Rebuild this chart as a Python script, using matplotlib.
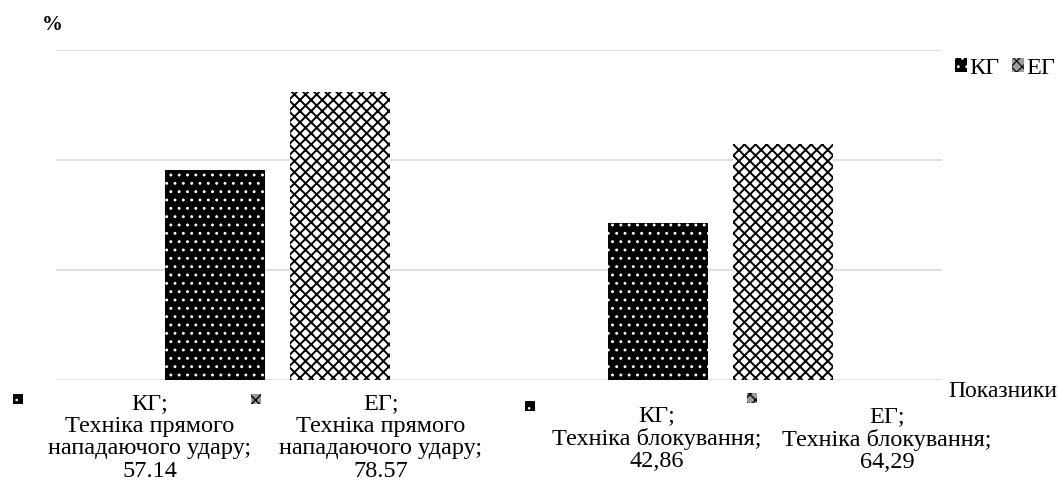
import matplotlib
matplotlib.use("Agg")
import matplotlib.pyplot as plt
from matplotlib.patches import Rectangle, Patch

# Data
categories = ["Техніка прямого\nнападаючого удару", "Техніка блокування"]
groups = ["КГ", "ЕГ"]
kg_values = [57.14, 42.86]
eg_values = [78.57, 64.29]
decimal_marks = [".", ","]
y_ticks = [0, 30, 60, 90]

W, H = 1058, 480
plt.rcParams["font.family"] = ["Liberation Serif", "DejaVu Serif"]

fig = plt.figure(figsize=(W / 100, H / 100), dpi=100)
ax = fig.add_axes([56 / W, 100 / H, 886 / W, 330 / H])

x = list(range(len(categories)))
offset, width = 0.141, 0.226

kg_style = dict(facecolor="black", edgecolor="white", hatch="..", linewidth=0)
eg_style = dict(facecolor="white", edgecolor="black", hatch="xxx", linewidth=0)
kg_hatch_lw, eg_hatch_lw = 0.9, 1.4

kg_bars = ax.bar([xi - offset for xi in x], kg_values, width, label=groups[0], zorder=2, **kg_style)
eg_bars = ax.bar([xi + offset for xi in x], eg_values, width, label=groups[1], zorder=2, **eg_style)
for b in kg_bars:
    b.set_hatch_linewidth(kg_hatch_lw)
for b in eg_bars:
    b.set_hatch_linewidth(eg_hatch_lw)

ax.set_xlim(-0.5, len(categories) - 0.5)
ax.set_ylim(y_ticks[0], y_ticks[-1])
ax.set_yticks(y_ticks)
ax.set_xticks([])
ax.tick_params(axis="y", length=0, labelleft=False)
ax.grid(axis="y", color="#d9d9d9", linewidth=1.2, zorder=0)
for s in ax.spines.values():
    s.set_visible(False)

# Data labels (pixel offsets from each bar's base) and their keys
label_offsets = {
    (0, 0): (-65, -13), (0, 1): (41, -13),
    (1, 0): (-1, -25), (1, 1): (104, -26),
}
key_offsets = {
    (0, 0): (-202, -14), (0, 1): (-89, -14),
    (1, 0): (-133, -21), (1, 1): (-36, -13),
}
key_faces = ["black", "#9a9a9a"]
series = [(kg_bars, kg_values, kg_style, kg_hatch_lw), (eg_bars, eg_values, eg_style, eg_hatch_lw)]
fs = 17.5
for gi, (bars, vals, style, hlw) in enumerate(series):
    for ci, (bar, v) in enumerate(zip(bars, vals)):
        value_txt = f"{v:.2f}".replace(".", decimal_marks[ci])
        txt = f"{groups[gi]};\n{categories[ci]};\n{value_txt}"
        bx = bar.get_x() + bar.get_width() / 2
        dx, dy = label_offsets[(ci, gi)]
        ax.annotate(txt, xy=(bx, 0), xytext=(dx, dy), textcoords="offset pixels",
                    ha="center", va="top", fontsize=fs, linespacing=1.1,
                    annotation_clip=False)
        # small key square beside the label
        px, py = ax.transData.transform((bx, 0))
        kx, ky = key_offsets[(ci, gi)]
        style_k = dict(style)
        style_k["facecolor"] = key_faces[gi]
        r = Rectangle((round(px + kx) / W, round(py + ky - 10) / H), 10 / W, 10 / H,
                      transform=fig.transFigure, **style_k)
        r.set_hatch_linewidth(hlw * 0.7)
        fig.add_artist(r)

# Legend with compact patterned keys
handles = []
for gi, style in enumerate([kg_style, eg_style]):
    st = dict(style)
    st["facecolor"] = key_faces[gi]
    handles.append(Patch(label=groups[gi], **st))
leg = fig.legend(handles=handles, loc="center left", bbox_to_anchor=(955 / W, 1 - 68 / H),
                 ncol=2, frameon=False, fontsize=fs, handlelength=0.5, handleheight=0.5,
                 handletextpad=0.1, columnspacing=0.5, borderpad=0, borderaxespad=0)
for h in leg.get_patches():
    h.set_hatch_linewidth(0.8)

fig.text(42 / W, 1 - 30 / H, "%", fontsize=15, fontweight="bold", va="baseline")
fig.text(948 / W, 1 - 397 / H, "Показники", fontsize=17, va="baseline")

fig.savefig("out.png", dpi=100)
